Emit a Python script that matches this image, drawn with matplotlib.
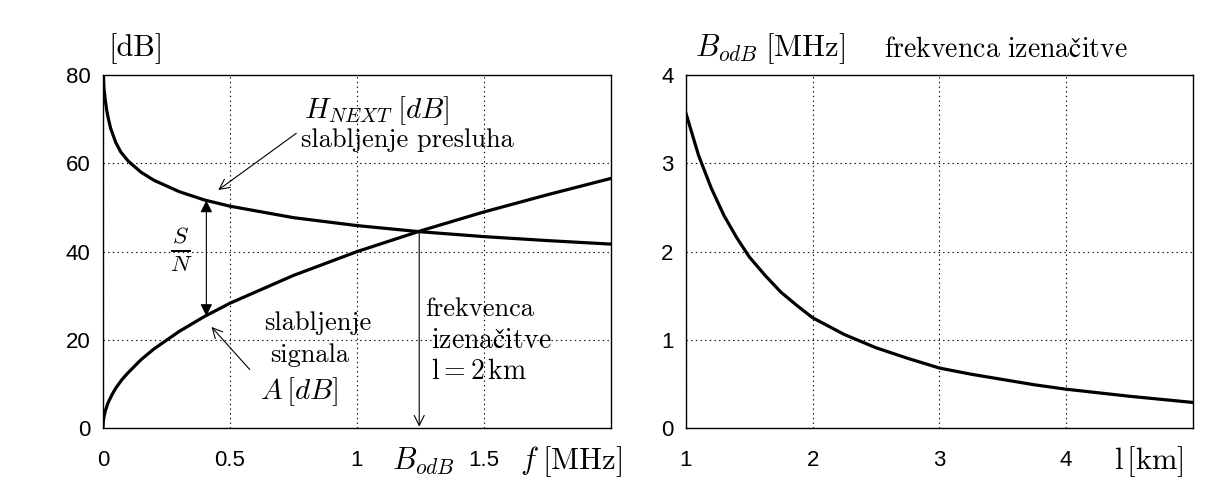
import matplotlib
matplotlib.use("Agg")
import matplotlib.pyplot as plt
import matplotlib.transforms as mtransforms

# signal attenuation A and crosstalk attenuation H_NEXT vs frequency (l = 2 km)
f_next = [0.002, 0.004, 0.007, 0.01, 0.015, 0.02, 0.03, 0.05, 0.07, 0.1, 0.15, 0.2,
          0.3, 0.4, 0.5, 0.75, 1.0, 1.25, 1.5, 1.75, 2.0]
h_next = [80, 77, 75.5, 74, 72, 70.5, 68, 64.8, 62.6, 60.5, 58, 56.2,
          53.6, 51.7, 50.3, 47.7, 45.9, 44.5, 43.4, 42.5, 41.7]
f_sig = [0, 0.002, 0.005, 0.01, 0.02, 0.035, 0.05, 0.075, 0.1, 0.15, 0.2, 0.3, 0.4,
         0.5, 0.75, 1.0, 1.25, 1.5, 1.75, 2.0]
a_sig = [0, 1.8, 2.8, 4, 5.7, 7.5, 9, 11, 12.6, 15.5, 17.9, 21.9, 25.3,
         28.3, 34.6, 40, 44.7, 49, 52.9, 56.6]

# equalisation frequency vs line length
length_km = [1.0, 1.1, 1.2, 1.3, 1.4, 1.5, 1.625, 1.75, 1.875, 2.0, 2.25, 2.5, 2.75,
             3.0, 3.25, 3.5, 3.75, 4.0, 4.5, 5.0]
b_odb = [3.57, 3.09, 2.72, 2.41, 2.16, 1.94, 1.73, 1.54, 1.39, 1.25, 1.06, 0.91, 0.79,
         0.68, 0.61, 0.55, 0.49, 0.44, 0.36, 0.29]

left_xticks = [0, 0.5, 1, 1.5]
left_xlabels = ["0", "0.5", "1", "1.5"]
left_yticks = [0, 20, 40, 60, 80]
right_xticks = [1, 2, 3, 4]
right_yticks = [0, 1, 2, 3, 4]

plt.rcParams["mathtext.fontset"] = "cm"
serif = ["cmr10", "DejaVu Serif"]
tickfont = "Liberation Sans"
tsize = 19
izen = r"$\mathrm{izenačitve}$"

fig = plt.figure(figsize=(12.14, 4.9), dpi=100)
ax1 = fig.add_axes([0.0848, 0.1265, 0.4185, 0.720])
ax2 = fig.add_axes([0.565, 0.1265, 0.4176, 0.720])

for ax in (ax1, ax2):
    ax.grid(True, linestyle=(0, (1.2, 3)), color="black", linewidth=0.8)
    ax.tick_params(length=0, labelsize=16, pad=9)
    ax.tick_params(axis="x", pad=16)
    for sp in ax.spines.values():
        sp.set_linewidth(1.0)

# ---- left panel ----
ax1.plot(f_next, h_next, color="black", linewidth=2.3)
ax1.plot(f_sig, a_sig, color="black", linewidth=2.3)
ax1.set_xlim(0, 2)
ax1.set_ylim(0, 80)
ax1.set_xticks(left_xticks)
ax1.set_xticklabels(left_xlabels, family=tickfont)
ax1.set_yticks(left_yticks)
ax1.set_yticklabels([str(v) for v in left_yticks], family=tickfont)

ax1.text(0.01, 1.075, "[dB]", transform=ax1.transAxes, family=serif,
         fontsize=22, va="center", ha="left")
ax1.text(0.79, 72, r"$H_{NEXT}\;[dB]$", fontsize=21, va="center", ha="left")
ax1.text(0.78, 65.3, "slabljenje presluha", family=serif, fontsize=tsize,
         va="center", ha="left")
ax1.annotate("", xy=(0.445, 53.6), xytext=(0.77, 67.2),
             arrowprops=dict(arrowstyle="->", lw=0.8, color="black",
                             mutation_scale=18))
ax1.annotate("", xy=(0.407, 51.6), xytext=(0.407, 25.4),
             arrowprops=dict(arrowstyle="<|-|>", lw=0.8, color="black",
                             mutation_scale=18, shrinkA=0, shrinkB=0))
ax1.text(0.307, 40.3, r"$\frac{S}{N}$", fontsize=24, va="center", ha="center")

ax1.text(0.635, 23.8, "slabljenje", family=serif, fontsize=tsize, va="center", ha="left")
ax1.text(0.66, 16.6, "signala", family=serif, fontsize=tsize, va="center", ha="left")
ax1.text(0.62, 8.3, r"$A\,[dB]$", fontsize=21, va="center", ha="left")
ax1.annotate("", xy=(0.42, 23.4), xytext=(0.585, 12.8),
             arrowprops=dict(arrowstyle="->", lw=0.8, color="black",
                             mutation_scale=18))

ax1.text(1.27, 27.0, "frekvenca", family=serif, fontsize=tsize, va="center", ha="left")
ax1.text(1.29, 20.0, izen, fontsize=tsize + 1, va="center", ha="left")
ax1.text(1.29, 12.9, r"$\mathrm{l = 2\,km}$", fontsize=tsize + 1, va="center", ha="left")
ax1.annotate("", xy=(1.245, 0.3), xytext=(1.245, 44.2),
             arrowprops=dict(arrowstyle="->", lw=0.8, color="black",
                             mutation_scale=18, shrinkA=0, shrinkB=0))

trans1 = mtransforms.blended_transform_factory(ax1.transData, ax1.transAxes)
ax1.text(1.26, -0.095, r"$B_{odB}$", transform=trans1, fontsize=22,
         va="center", ha="center")
ax1.text(1.64, -0.095, r"$f\;\mathrm{[MHz]}$", transform=trans1, fontsize=22,
         va="center", ha="left")

# ---- right panel ----
ax2.plot(length_km, b_odb, color="black", linewidth=2.3)
ax2.set_xlim(1, 5)
ax2.set_ylim(0, 4)
ax2.set_xticks(right_xticks)
ax2.set_xticklabels([str(v) for v in right_xticks], family=tickfont)
ax2.set_yticks(right_yticks)
ax2.set_yticklabels([str(v) for v in right_yticks], family=tickfont)

ax2.text(0.018, 1.075, r"$B_{odB}\;\mathrm{[MHz]}$", transform=ax2.transAxes,
         fontsize=22, va="center", ha="left")
ax2.text(0.39, 1.075, r"$\mathrm{frekvenca\ izenačitve}$",
         transform=ax2.transAxes, fontsize=tsize + 1, va="center", ha="left")
trans2 = mtransforms.blended_transform_factory(ax2.transData, ax2.transAxes)
ax2.text(4.38, -0.095, r"$\mathrm{l\,[km]}$", transform=trans2, fontsize=22,
         va="center", ha="left")

fig.savefig("out.png", dpi=100)
